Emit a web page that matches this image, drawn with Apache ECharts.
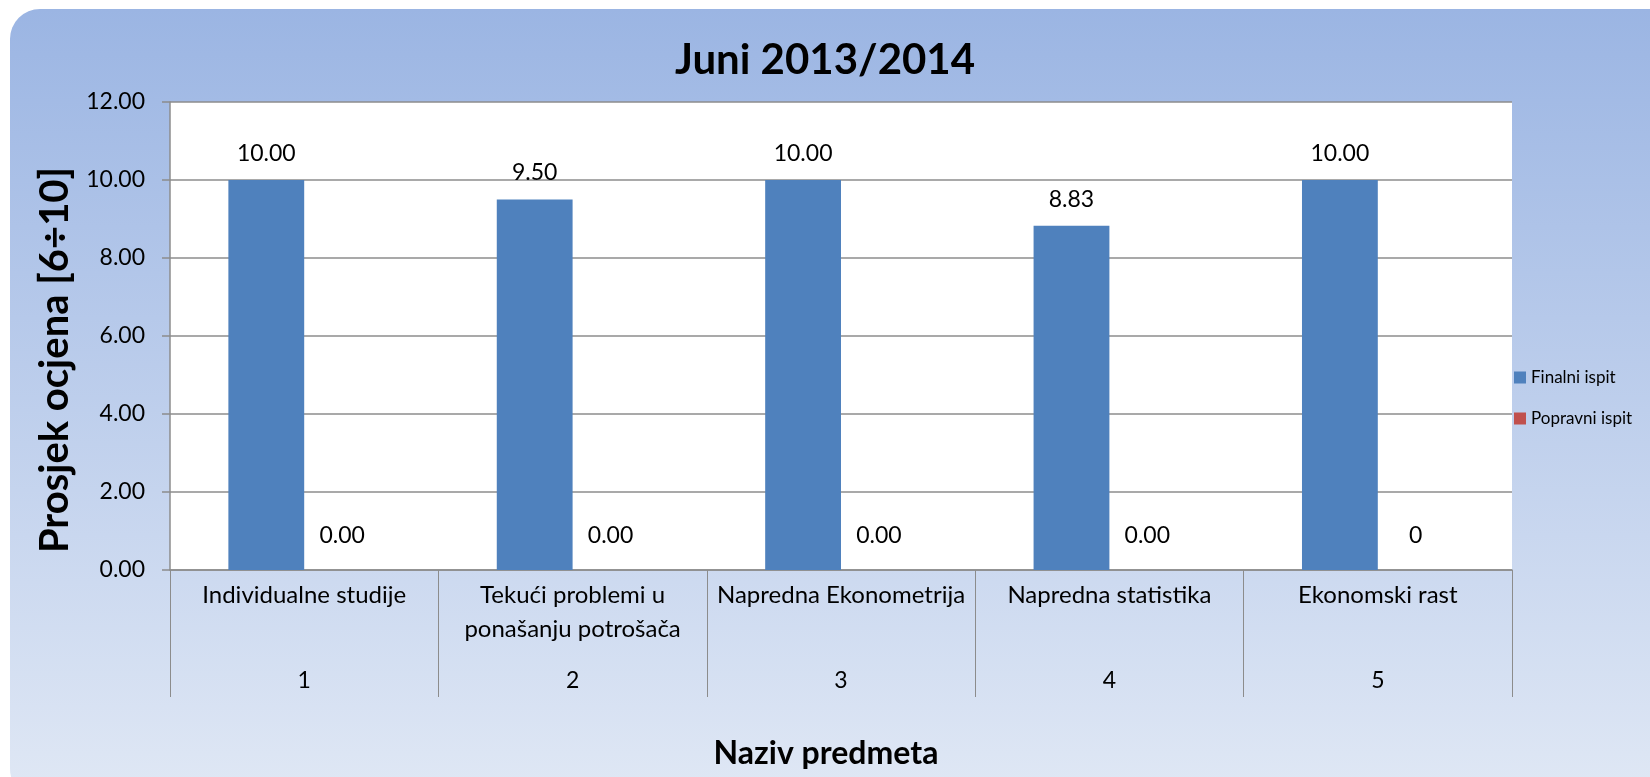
<!DOCTYPE html>
<html>
<head>
<meta charset="utf-8">
<script src="https://cdn.jsdelivr.net/npm/echarts@6/dist/echarts.min.js"></script>
<style>
  html, body { margin: 0; padding: 0; background: #fff; }
  #chart { width: 1650px; height: 777px; }
</style>
</head>
<body>
<div id="chart"></div>
<script>
// podaci sa grafika
let predmeti = ['Individualne studije', 'Tekući problemi u\nponašanju potrošača', 'Napredna Ekonometrija', 'Napredna statistika', 'Ekonomski rast'];
let redniBroj = ['1', '2', '3', '4', '5'];
let finalni = [10.00, 9.50, 10.00, 8.83, 10.00];
let popravni = [0, 0, 0, 0, 0];
let popravniLabele = ['0.00', '0.00', '0.00', '0.00', '0'];
let yTicks = [0, 2, 4, 6, 8, 10, 12];

let font = 'Lato';
let siva = '#8c8c8c';

let option = {
    textStyle: { fontFamily: font },
    graphic: [{
        type: 'rect',
        z: -10,
        shape: { x: 10, y: 9, width: 1700, height: 790, r: [30, 0, 0, 30] },
        style: {
            fill: new echarts.graphic.LinearGradient(0, 0, 0, 1, [
                { offset: 0, color: '#9bb5e3' },
                { offset: 1, color: '#e0e8f5' }
            ])
        }
    }],
    title: {
        text: 'Juni 2013/2014',
        left: 'center',
        top: 34,
        textStyle: { fontFamily: font, fontSize: 42, fontWeight: 'bold', color: '#000' }
    },
    legend: {
        orient: 'vertical',
        left: 1514,
        top: 369,
        padding: 0,
        itemWidth: 12,
        itemHeight: 12,
        itemGap: 24,
        icon: 'rect',
        textStyle: { fontFamily: font, fontSize: 17, color: '#000' },
        data: ['Finalni ispit', 'Popravni ispit']
    },
    grid: {
        left: 170, right: 138, top: 102, bottom: 207,
        show: true, backgroundColor: '#fff', borderWidth: 0
    },
    xAxis: [{
        type: 'category',
        data: predmeti,
        position: 'bottom',
        name: 'Naziv predmeta',
        nameLocation: 'middle',
        nameGap: 168,
        nameTextStyle: { fontFamily: font, fontSize: 32, fontWeight: 'bold', color: '#000', padding: [0, 30, 0, 0] },
        axisLine: { lineStyle: { color: siva, width: 1.5 } },
        axisTick: { show: true, interval: 0, length: 127, lineStyle: { color: siva, width: 1 } },
        axisLabel: { interval: 0, margin: 8, fontSize: 24, lineHeight: 34, color: '#000', fontFamily: font }
    }, {
        type: 'category',
        data: redniBroj,
        position: 'bottom',
        offset: 100,
        axisLine: { show: false },
        axisTick: { show: false },
        axisLabel: { interval: 0, margin: 0, fontSize: 23, lineHeight: 22, color: '#000', fontFamily: font }
    }],
    yAxis: {
        type: 'value',
        min: yTicks[0],
        max: yTicks[yTicks.length - 1],
        interval: 2,
        name: 'Prosjek ocjena [6÷10]',
        nameLocation: 'middle',
        nameRotate: 90,
        nameGap: 93,
        nameTextStyle: { fontFamily: font, fontSize: 40, fontWeight: 'bold', color: '#000', padding: [0, 48, 0, 0] },
        axisLine: { show: true, lineStyle: { color: siva, width: 1.5 } },
        axisTick: { show: true, inside: false, length: 8, lineStyle: { color: siva, width: 1.5 } },
        axisLabel: {
            margin: 25, fontSize: 23, color: '#000', fontFamily: font,
            formatter: function (v) { return v.toFixed(2); }
        },
        splitLine: { show: true, lineStyle: { color: siva, width: 1.5 } }
    },
    series: [{
        name: 'Finalni ispit',
        type: 'bar',
        xAxisIndex: 0,
        data: finalni,
        barGap: 0,
        barCategoryGap: '43.5%',
        itemStyle: { color: '#4f81bd' },
        label: {
            show: true, position: 'top', distance: 15,
            fontSize: 23, color: '#000', fontFamily: font,
            formatter: function (p) { return p.value.toFixed(2); }
        }
    }, {
        name: 'Popravni ispit',
        type: 'bar',
        xAxisIndex: 0,
        data: popravni,
        itemStyle: { color: '#c0504d' },
        label: {
            show: true, position: 'top', distance: 23,
            fontSize: 23, color: '#000', fontFamily: font,
            formatter: function (p) { return popravniLabele[p.dataIndex]; }
        }
    }]
};

let mychart = echarts.init(document.getElementById('chart'));
mychart.setOption(option);
</script>
</body>
</html>
